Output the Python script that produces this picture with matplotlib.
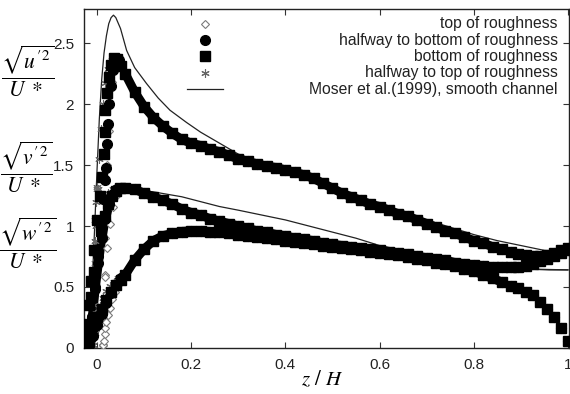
import matplotlib
matplotlib.use('Agg')
import matplotlib.pyplot as plt

plt.rcParams['font.family'] = ['Liberation Sans', 'DejaVu Sans']
plt.rcParams['mathtext.fontset'] = 'stix'

# profiles away from the wall, shared by every roughness position
core_z = [0.06, 0.08, 0.10, 0.12, 0.14, 0.16, 0.18, 0.20, 0.22, 0.24,
          0.26, 0.28, 0.30, 0.32, 0.34, 0.36, 0.38, 0.40, 0.42, 0.44,
          0.46, 0.48, 0.50, 0.52, 0.54, 0.56, 0.58, 0.60, 0.62, 0.64,
          0.66, 0.68, 0.70, 0.72, 0.74, 0.76, 0.78, 0.80, 0.82, 0.84,
          0.86, 0.88, 0.895, 0.91, 0.925, 0.94, 0.955, 0.97, 0.985, 1.0]
core_u = [2.25, 2.10, 1.98, 1.89, 1.82, 1.76, 1.71, 1.68, 1.66, 1.63,
          1.61, 1.58, 1.55, 1.53, 1.51, 1.49, 1.48, 1.46, 1.44, 1.42,
          1.39, 1.35, 1.31, 1.27, 1.24, 1.21, 1.18, 1.16, 1.13, 1.10,
          1.08, 1.05, 1.02, 0.99, 0.96, 0.94, 0.91, 0.88, 0.86, 0.83,
          0.81, 0.79, 0.77, 0.76, 0.75, 0.75, 0.76, 0.78, 0.80, 0.82]
core_v = [1.31, 1.30, 1.27, 1.24, 1.21, 1.18, 1.14, 1.11, 1.09, 1.06,
          1.04, 1.02, 1.00, 0.98, 0.96, 0.95, 0.93, 0.92, 0.90, 0.89,
          0.88, 0.86, 0.85, 0.84, 0.83, 0.82, 0.81, 0.80, 0.79, 0.78,
          0.77, 0.75, 0.74, 0.73, 0.72, 0.70, 0.69, 0.68, 0.67, 0.665,
          0.66, 0.66, 0.665, 0.675, 0.69, 0.71, 0.73, 0.75, 0.78, 0.80]
core_w = [0.60, 0.72, 0.81, 0.88, 0.92, 0.94, 0.955, 0.96, 0.96, 0.955,
          0.95, 0.94, 0.93, 0.92, 0.91, 0.90, 0.89, 0.88, 0.87, 0.86,
          0.85, 0.84, 0.83, 0.82, 0.81, 0.80, 0.79, 0.78, 0.77, 0.76,
          0.745, 0.73, 0.72, 0.70, 0.69, 0.67, 0.65, 0.63, 0.60, 0.57,
          0.54, 0.51, 0.49, 0.46, 0.43, 0.38, 0.32, 0.25, 0.16, 0.06]

# near-wall points, bottom of roughness (squares)
sq_u_z = [-0.026, -0.022, -0.017, -0.012, -0.006, 0.0, 0.006, 0.011, 0.014,
          0.016, 0.018, 0.021, 0.025, 0.030, 0.036, 0.043, 0.050]
sq_u = [0.02, 0.15, 0.35, 0.55, 0.80, 1.05, 1.25, 1.40, 1.59,
        1.77, 1.95, 2.09, 2.22, 2.32, 2.38, 2.37, 2.31]
sq_v_z = [-0.026, -0.020, -0.013, -0.006, 0.0, 0.008, 0.016, 0.024, 0.032, 0.040, 0.048]
sq_v = [0.02, 0.20, 0.42, 0.62, 0.80, 0.96, 1.08, 1.18, 1.25, 1.29, 1.31]
sq_w_z = [-0.026, -0.018, -0.010, 0.0, 0.010, 0.020, 0.030, 0.040, 0.050]
sq_w = [0.02, 0.10, 0.18, 0.25, 0.32, 0.39, 0.46, 0.52, 0.56]

# halfway to bottom of roughness (circles)
ci_u_z = [-0.016, -0.010, -0.004, 0.002, 0.008, 0.013, 0.017, 0.019, 0.021,
          0.023, 0.026, 0.030, 0.035, 0.041, 0.047]
ci_u = [0.02, 0.25, 0.50, 0.75, 1.00, 1.22, 1.38, 1.48, 1.67,
        1.84, 2.00, 2.15, 2.28, 2.36, 2.36]
ci_v_z = [-0.016, -0.010, -0.004, 0.003, 0.010, 0.018, 0.026, 0.034, 0.042, 0.050]
ci_v = [0.02, 0.25, 0.48, 0.70, 0.90, 1.06, 1.18, 1.26, 1.30, 1.31]
ci_w_z = [-0.016, -0.008, 0.0, 0.010, 0.020, 0.030, 0.040, 0.050]
ci_w = [0.02, 0.10, 0.19, 0.28, 0.37, 0.45, 0.52, 0.57]

# top of roughness (diamonds)
di_u_z = [0.012, 0.014, 0.016, 0.018, 0.020, 0.022, 0.025, 0.028, 0.032, 0.037, 0.043, 0.050]
di_u = [0.02, 0.30, 0.60, 0.90, 1.20, 1.50, 1.78, 2.00, 2.18, 2.30, 2.36, 2.33]
di_v_z = [0.012, 0.015, 0.018, 0.022, 0.027, 0.033, 0.040, 0.047]
di_v = [0.02, 0.30, 0.58, 0.82, 1.02, 1.16, 1.25, 1.30]
di_w_z = [0.012, 0.014, 0.016, 0.018, 0.020, 0.023, 0.027, 0.032, 0.038, 0.045, 0.052]
di_w = [0.02, 0.06, 0.11, 0.16, 0.21, 0.27, 0.33, 0.40, 0.46, 0.52, 0.57]

# halfway to top of roughness (asterisks)
st_u_z = [-0.008, -0.006, -0.004, -0.002, 0.001, 0.005, 0.009, 0.013, 0.018,
          0.024, 0.031, 0.038, 0.045]
st_u = [0.02, 0.35, 0.70, 1.00, 1.30, 1.55, 1.80, 2.00, 2.17,
        2.29, 2.36, 2.38, 2.35]
st_v_z = [-0.008, -0.007, -0.006, -0.005, -0.004, -0.002, 0.0, 0.003, 0.006,
          0.010, 0.016, 0.024, 0.034, 0.045]
st_v = [0.02, 0.30, 0.60, 0.88, 1.05, 1.20, 1.32, 1.30, 1.26,
        1.24, 1.24, 1.27, 1.30, 1.31]
st_w_z = [-0.008, -0.004, 0.0, 0.006, 0.012, 0.020, 0.028, 0.036, 0.044, 0.052]
st_w = [0.02, 0.12, 0.25, 0.34, 0.41, 0.47, 0.51, 0.54, 0.57, 0.59]

# Moser et al. (1999) smooth channel
moser_u_z = [-0.02, -0.015, -0.01, -0.005, 0.0, 0.005, 0.01, 0.015, 0.02, 0.025,
             0.03, 0.035, 0.04, 0.05, 0.063, 0.08, 0.105, 0.13, 0.155, 0.19,
             0.22, 0.26, 0.30, 0.35, 0.40, 0.45, 0.50, 0.55, 0.60, 0.65,
             0.70, 0.75, 0.80, 0.85, 0.90, 0.95, 1.0]
moser_u = [0.0, 0.2, 0.55, 0.98, 1.45, 1.88, 2.2, 2.42, 2.56, 2.66,
           2.71, 2.73, 2.71, 2.62, 2.44, 2.30, 2.17, 2.05, 1.95, 1.85,
           1.77, 1.68, 1.59, 1.52, 1.47, 1.40, 1.32, 1.25, 1.18, 1.11,
           1.05, 0.99, 0.93, 0.88, 0.84, 0.80, 0.79]
moser_v_z = [-0.02, -0.01, 0.0, 0.01, 0.02, 0.03, 0.045, 0.06, 0.08, 0.10,
             0.12, 0.15, 0.18, 0.22, 0.26, 0.30, 0.35, 0.40, 0.45, 0.50,
             0.55, 0.60, 0.65, 0.70, 0.75, 0.80, 0.85, 0.88, 0.92, 0.96, 1.0]
moser_v = [0.0, 0.35, 0.70, 0.95, 1.12, 1.22, 1.29, 1.31, 1.30, 1.29,
           1.28, 1.26, 1.24, 1.20, 1.16, 1.13, 1.09, 1.05, 1.00, 0.95,
           0.90, 0.84, 0.80, 0.76, 0.73, 0.70, 0.67, 0.655, 0.645, 0.64, 0.64]
moser_w_z = [-0.02, -0.01, 0.0, 0.02, 0.04, 0.06, 0.08, 0.10, 0.13, 0.17,
             0.22, 0.30, 0.40, 0.50, 0.60, 0.70, 0.80, 0.88, 0.94, 1.0]
moser_w = [0.0, 0.08, 0.20, 0.38, 0.52, 0.63, 0.74, 0.82, 0.90, 0.95,
           0.97, 0.95, 0.90, 0.84, 0.79, 0.74, 0.69, 0.66, 0.645, 0.64]

labels = ['top of roughness', 'halfway to bottom of roughness', 'bottom of roughness',
          'halfway to top of roughness', 'Moser et al.(1999), smooth channel']

diamond = dict(marker='D', ms=4.5, mfc='white', mec='#7a7a7a', mew=0.8, ls='none')
circle = dict(marker='o', ms=7, mfc='black', mec='black', ls='none')
square = dict(marker='s', ms=6.5, mfc='black', mec='black', ls='none')
star = dict(marker=(6, 2, 0), ms=6, mec='#666666', mew=0.8, ls='none')

fig = plt.figure(figsize=(5.7, 3.94), dpi=100)
ax = fig.add_axes([0.147, 0.117, 0.851, 0.860])

ax.plot(moser_u_z, moser_u, color='#222222', lw=0.9, zorder=2)
ax.plot(moser_v_z, moser_v, color='#222222', lw=0.9, zorder=2)
ax.plot(moser_w_z, moser_w, color='#222222', lw=0.9, zorder=2)

# dense overlapping markers form a solid band in the bulk
n = 41
ax.plot(core_z[:n], core_u[:n], color='black', lw=6.5, solid_capstyle='butt', zorder=3)
ax.plot(ci_v_z + core_z[:n], ci_v + core_v[:n], color='black', lw=6.5,
        solid_capstyle='butt', zorder=3)
ax.plot(ci_w_z + core_z[:n], ci_w + core_w[:n], color='black', lw=6.5,
        solid_capstyle='butt', zorder=3)

series = [(di_u_z, di_u, di_v_z, di_v, di_w_z, di_w, diamond, 3),
          (st_u_z, st_u, st_v_z, st_v, st_w_z, st_w, star, 3),
          (ci_u_z, ci_u, ci_v_z, ci_v, ci_w_z, ci_w, circle, 4),
          (sq_u_z, sq_u, sq_v_z, sq_v, sq_w_z, sq_w, square, 5)]
for uz, u, vz, v, wz, w, style, zo in series:
    ax.plot(uz + core_z, u + core_u, zorder=zo, **style)
    ax.plot(vz + core_z, v + core_v, zorder=zo, **style)
    ax.plot(wz + core_z, w + core_w, zorder=zo, **style)

ax.set_xlim(-0.028, 1.002)
ax.set_ylim(0, 2.78)
ax.set_xticks([0, 0.2, 0.4, 0.6, 0.8, 1])
ax.set_xticklabels(['0', '0.2', '0.4', '0.6', '0.8', '1'])
ax.set_yticks([0, 0.5, 1, 1.5, 2, 2.5])
ax.set_yticklabels(['0', '0.5', '1', '1.5', '2', '2.5'])
ax.tick_params(direction='in', top=True, right=True, length=4.5, width=0.8,
               labelsize=11, pad=7, colors='#333333', labelcolor='#222222')
for s in ax.spines.values():
    s.set_linewidth(1.0)
    s.set_color('#222222')

# legend: markers in a column on the left, labels right-aligned
for i, (lab, style) in enumerate(zip(labels, [diamond, circle, square, star, None])):
    y = 0.956 - i * 0.048
    if style is None:
        ax.plot([0.212, 0.287], [y, y], transform=ax.transAxes, color='#222222', lw=0.9)
    else:
        ax.plot([0.249], [y], transform=ax.transAxes, **style)
    ax.text(0.977, y, lab, transform=ax.transAxes, ha='right', va='center',
            fontsize=11.3, color='#222222')

fig.text(0.049, 0.818, r"$\dfrac{\sqrt{u'^2}}{U\ *}$", fontsize=15.5, ha='center', va='center')
fig.text(0.046, 0.574, r"$\dfrac{\sqrt{v'^2}}{U\ *}$", fontsize=15.5, ha='center', va='center')
fig.text(0.049, 0.381, r"$\dfrac{\sqrt{w'^2}}{U\ *}$", fontsize=15.5, ha='center', va='center')
fig.text(0.565, 0.038, r"$z\ /\ H$", fontsize=15, ha='center', va='center')

fig.savefig('out.png', dpi=100)
